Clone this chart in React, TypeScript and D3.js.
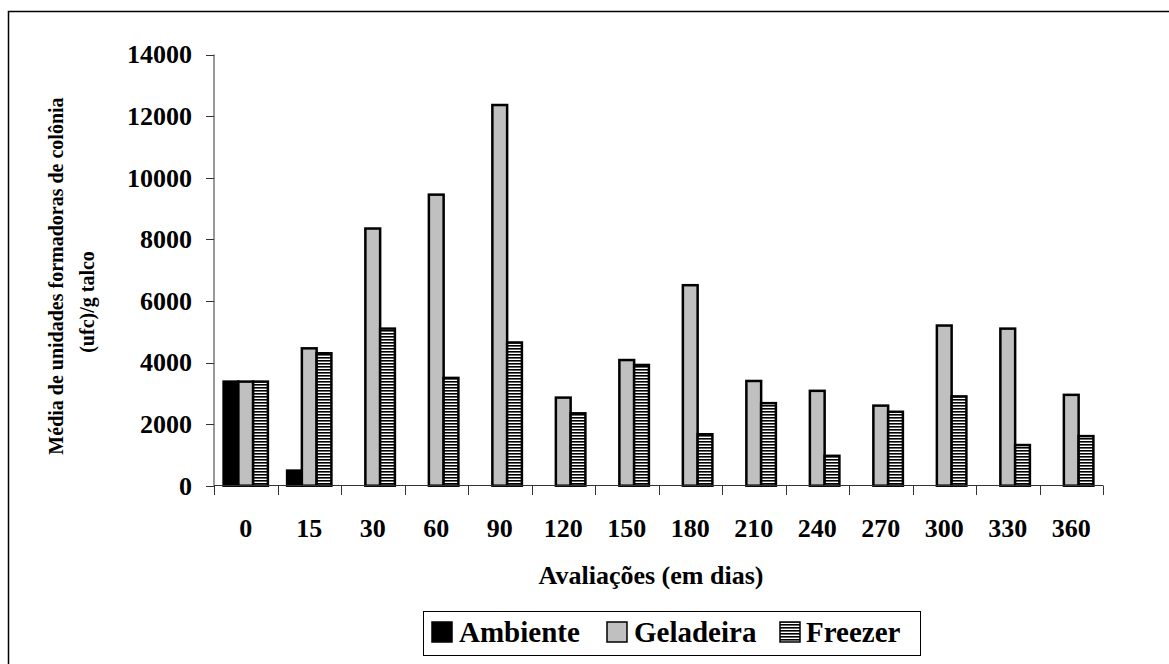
import React from 'react';
import * as d3 from 'd3';

// avaliações (dias)
const dias = ['0', '15', '30', '60', '90', '120', '150', '180', '210', '240', '270', '300', '330', '360'];
const series = ['Ambiente', 'Geladeira', 'Freezer'];

// média de ufc/g talco
const ambiente = [3380, 490, null, null, null, null, null, null, null, null, null, null, null, null];
const geladeira = [3380, 4460, 8350, 9450, 12360, 2860, 4080, 6510, 3400, 3080, 2600, 5200, 5100, 2950];
const freezer = [3380, 4300, 5100, 3500, 4650, 2350, 3920, 1670, 2680, 970, 2400, 2900, 1320, 1610];

const yTicks = [0, 2000, 4000, 6000, 8000, 10000, 12000, 14000];

const W = 1169;
const H = 664;
const font = '"Liberation Serif", "Times New Roman", serif';

const fills: Record<string, string> = {
    Ambiente: '#000',
    Geladeira: '#c0c0c0',
    Freezer: 'url(#stripes)',
};

export default function App() {
    const x = d3.scaleBand<string>().domain(dias).range([214, 1103]).padding(0);
    const x1 = d3.scaleBand<string>().domain(series).range([9.6, x.bandwidth() - 9.6]).padding(0);
    const y = d3.scaleLinear().domain([0, 14000]).range([485.7, 54.5]);

    const values: Record<string, (number | null)[]> = {
        Ambiente: ambiente,
        Geladeira: geladeira,
        Freezer: freezer,
    };

    const legendItems = [
        { name: 'Ambiente', sq: 432, tx: 459 },
        { name: 'Geladeira', sq: 607, tx: 634 },
        { name: 'Freezer', sq: 780, tx: 806 },
    ];

    return (
        <svg width={W} height={H} style={{ position: 'absolute', left: 0, top: 0, background: '#fff' }}
            fontFamily={font} fontWeight="bold">
            <defs>
                <pattern id="stripes" patternUnits="userSpaceOnUse" width="6" height="3">
                    <rect width="6" height="3" fill="#fff" />
                    <rect width="6" height="1.6" fill="#000" />
                </pattern>
            </defs>

            {/* outer frame */}
            <rect x={8.5} y={11.5} width={W + 20} height={H + 20} fill="none" stroke="#000" strokeWidth={1.5} />

            {/* y axis */}
            <line x1={214} x2={214} y1={y(14000)} y2={y(0)} stroke="#333" />
            {yTicks.map(t => (
                <g key={t}>
                    <line x1={206} x2={214} y1={Math.round(y(t)) + 0.5} y2={Math.round(y(t)) + 0.5} stroke="#333" />
                    <text x={192} y={y(t)} dy="0.34em" textAnchor="end" fontSize={26}>{t}</text>
                </g>
            ))}

            {/* bars */}
            {dias.map((d, i) => (
                <g key={d} transform={`translate(${x(d)},0)`}>
                    {series.map(s => {
                        const v = values[s][i];
                        if (v == null) return null;
                        return (
                            <rect key={s} x={x1(s)} y={y(v)} width={x1.bandwidth()} height={y(0) - y(v)}
                                fill={fills[s]} stroke="#000" strokeWidth={2.5} />
                        );
                    })}
                </g>
            ))}

            {/* x axis */}
            <line x1={214} x2={1103} y1={485.5} y2={485.5} stroke="#333" />
            {dias.concat(['end']).map((d, i) => {
                const px = Math.round(214 + i * x.step()) + 0.5;
                return <line key={d} x1={px} x2={px} y1={485.5} y2={495} stroke="#333" />;
            })}
            {dias.map(d => (
                <text key={d} x={(x(d) as number) + x.bandwidth() / 2} y={537} textAnchor="middle" fontSize={26}>{d}</text>
            ))}

            <text x={651} y={584} textAnchor="middle" fontSize={26}>Avaliações (em dias)</text>

            {/* y title */}
            <text transform="translate(63,276) rotate(-90)" textAnchor="middle" fontSize={20}>
                Média de unidades formadoras de colônia
            </text>
            <text transform="translate(94,302) rotate(-90)" textAnchor="middle" fontSize={20}>
                (ufc)/g talco
            </text>

            {/* legend */}
            <rect x={423.5} y={611.5} width={497} height={44} fill="#fff" stroke="#000" strokeWidth={1} />
            {legendItems.map(it => (
                <g key={it.name}>
                    <rect x={it.sq} y={622} width={20} height={20} fill={fills[it.name]} stroke="#000" strokeWidth={1.5} />
                    <text x={it.tx} y={642} fontSize={29}>{it.name}</text>
                </g>
            ))}
        </svg>
    );
}
